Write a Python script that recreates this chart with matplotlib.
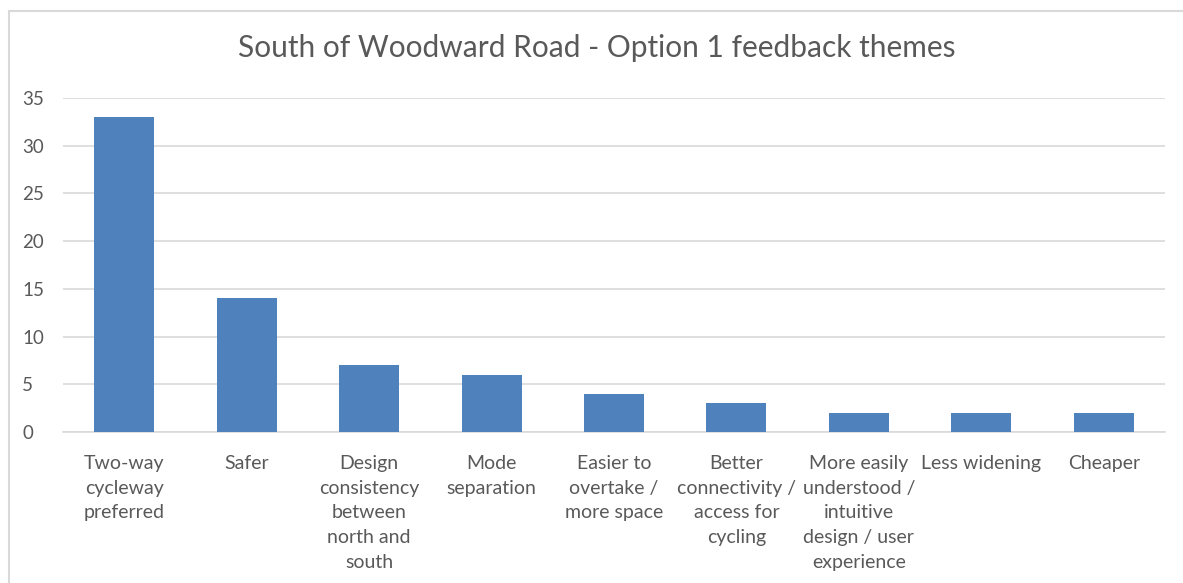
import matplotlib.pyplot as plt
from matplotlib.patches import Rectangle

plt.rcParams['font.family'] = ['Lato', 'DejaVu Sans']

categories = ['Two-way\ncycleway\npreferred', 'Safer', 'Design\nconsistency\nbetween\nnorth and\nsouth',
              'Mode\nseparation', 'Easier to\novertake /\nmore space',
              'Better\nconnectivity /\naccess for\ncycling',
              'More easily\nunderstood /\nintuitive\ndesign / user\nexperience',
              'Less widening', 'Cheaper']
counts = [33, 14, 7, 6, 4, 3, 2, 2, 2]
yticks = [0, 5, 10, 15, 20, 25, 30, 35]

text_color = '#595959'
fig = plt.figure(figsize=(11.83, 5.83), dpi=100)

# chart frame, Excel style, cut off at right and bottom
fig.patches.append(Rectangle((9 / 1183, -0.1), 1.2, 1 - 11 / 583 + 0.1,
                             transform=fig.transFigure, fill=False,
                             edgecolor='#d9d9d9', linewidth=1.5))

ax = fig.add_axes([63 / 1183, 1 - 432 / 583, (1165 - 63) / 1183, (432 - 98) / 583])
x = range(len(categories))
ax.bar(x, counts, width=0.49, color='#4f81bd', zorder=3)

ax.set_xlim(-0.5, len(categories) - 0.5)
ax.set_ylim(0, 35)
ax.set_yticks(yticks)
ax.yaxis.grid(True, color='#d9d9d9', linewidth=1.2, zorder=0)
ax.set_xticks(list(x))
ax.set_xticklabels(categories, fontsize=14, color=text_color, linespacing=1.55, va='top')
ax.tick_params(axis='x', length=0, pad=16.5)
ax.tick_params(axis='y', length=0, labelsize=13.5, labelcolor=text_color)
for lbl in ax.get_yticklabels():
    lbl.set_horizontalalignment('left')
ax.yaxis.set_tick_params(pad=29.5)
for s in ['top', 'right', 'left']:
    ax.spines[s].set_visible(False)
ax.spines['bottom'].set_color('#d9d9d9')
ax.spines['bottom'].set_linewidth(1.2)

fig.text(597 / 1183, 1 - 48 / 583, 'South of Woodward Road - Option 1 feedback themes',
         ha='center', va='center', fontsize=21.5, color=text_color)

fig.savefig('out.png', dpi=100)
